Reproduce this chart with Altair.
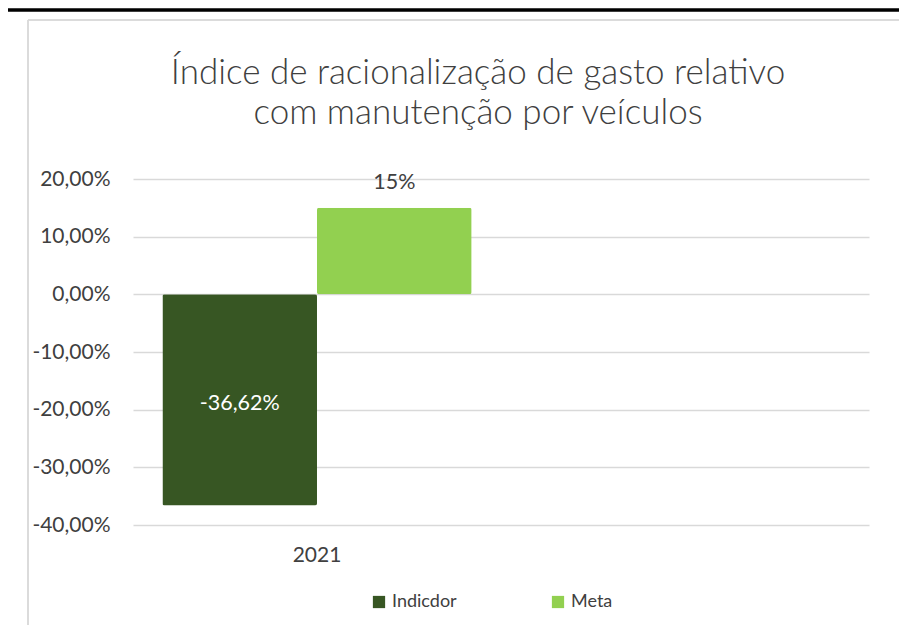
import altair as alt
import pandas as pd

# ---- data ----
title_lines = ["Índice de racionalização de gasto relativo", "com manutenção por veículos"]
categories = ["2021", " "]          # second (empty) category slot as in the source chart
series = ["Indicdor", "Meta"]
values = [-0.3662, 0.15]
value_labels = ["-36,62%", "15%"]
colors = ["#375623", "#92D050"]

df = pd.DataFrame({
    "ano": [categories[0]] * len(series),
    "serie": series,
    "valor": values,
    "rotulo": value_labels,
})
title_df = pd.DataFrame({"titulo": ["\n".join(title_lines)]})

FONT = "Lato"
GRAY_TXT = "#404040"

x_scale = alt.Scale(domain=categories, paddingInner=0, paddingOuter=0)
x_enc = alt.X("ano:N", scale=x_scale,
              axis=alt.Axis(title=None, domain=False, ticks=False, labelAngle=0,
                            labelPadding=19, labelFontSize=21, labelFont=FONT,
                            labelColor=GRAY_TXT, grid=False))
xoff = alt.XOffset("serie:N", scale=alt.Scale(domain=series, paddingInner=0, paddingOuter=0.19))
y_scale = alt.Scale(domain=[-0.4, 0.2], nice=False)

bars = alt.Chart(df).mark_bar(cornerRadius=2).encode(
    x=x_enc,
    xOffset=xoff,
    y=alt.Y("valor:Q", scale=y_scale,
            axis=alt.Axis(title=None, values=[-0.4, -0.3, -0.2, -0.1, 0, 0.1, 0.2],
                          labelExpr="replace(replace(format(datum.value, '.2%'), '.', ','), '\u2212', '-')",
                          domain=False, ticks=False, labelPadding=23, labelFontSize=21,
                          labelFont=FONT, labelColor=GRAY_TXT,
                          grid=True, gridColor="#d9d9d9", gridWidth=1.5)),
    color=alt.Color("serie:N", scale=alt.Scale(domain=series, range=colors),
                    legend=alt.Legend(title=None, orient="none", legendX=237, legendY=414,
                                      direction="horizontal", columns=2, columnPadding=92,
                                      symbolType="square", symbolSize=150, symbolStrokeWidth=0,
                                      labelFont=FONT, labelFontSize=18, labelColor=GRAY_TXT,
                                      labelOffset=4, padding=0)),
)

neg_lbl = alt.Chart(df).transform_filter("datum.valor < 0").transform_calculate(
    meio="datum.valor / 2"
).mark_text(font=FONT, fontSize=21.5, color="white", dy=4).encode(
    x=alt.X("ano:N", scale=x_scale),
    xOffset=xoff,
    y=alt.Y("meio:Q", scale=y_scale),
    text="rotulo:N",
)

pos_lbl = alt.Chart(df).transform_filter("datum.valor >= 0").mark_text(
    font=FONT, fontSize=21.5, color=GRAY_TXT, baseline="bottom", dy=-14
).encode(
    x=alt.X("ano:N", scale=x_scale),
    xOffset=xoff,
    y=alt.Y("valor:Q", scale=y_scale),
    text="rotulo:N",
)

title_txt = alt.Chart(title_df).mark_text(
    font=FONT, fontSize=35, fontWeight=300, color=GRAY_TXT,
    align="center", baseline="alphabetic", lineBreak="\n", lineHeight=40
).encode(
    x=alt.value(345),
    y=alt.value(-95),
    text="titulo:N",
)

# chart-area frame (decoration)
frame_left = alt.Chart(df).mark_rule(color="#d9d9d9", strokeWidth=1.5).encode(
    x=alt.value(-105), y=alt.value(-159), y2=alt.value(456))
frame_top = alt.Chart(df).mark_rule(color="#d9d9d9", strokeWidth=1.5).encode(
    x=alt.value(-105), x2=alt.value(766), y=alt.value(-159))
black_top = alt.Chart(df).mark_rule(color="#000000", strokeWidth=3).encode(
    x=alt.value(-125), x2=alt.value(766), y=alt.value(-169))

chart = alt.layer(frame_left, frame_top, black_top, bars, neg_lbl, pos_lbl, title_txt).properties(
    width=736, height=346,
    autosize=alt.AutoSizeParams(type="none"),
    padding={"left": 125, "top": 171, "right": 30, "bottom": 100},
).configure(background="white").configure_view(strokeWidth=0, stroke="transparent").configure_axisX(grid=False)

chart.save("out.html", embed_options={"renderer": "svg", "actions": False})
